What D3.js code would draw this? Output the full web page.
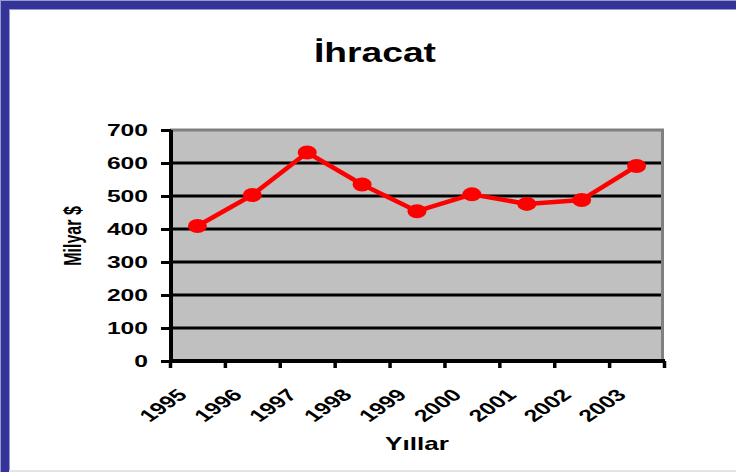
<!DOCTYPE html>
<html>
<head>
<meta charset="utf-8">
<script src="https://cdn.jsdelivr.net/npm/d3@7"></script>
<style>
  html, body { margin: 0; padding: 0; background: #fff; }
  svg { display: block; }
  text { font-family: "Liberation Sans", Arial, sans-serif; font-weight: bold; fill: #000; }
</style>
</head>
<body>
<div id="graph"></div>
<script>
// Data
const years = ['1995', '1996', '1997', '1998', '1999', '2000', '2001', '2002', '2003'];
const exports = [409, 503, 632, 535, 454, 505, 476, 488, 591];
const yTicks = [0, 100, 200, 300, 400, 500, 600, 700];

const width = 736;
const height = 472;
// horizontal squash of the original picture
const sx = 1.45;

const plot = { left: 170, right: 664, top: 130, bottom: 361 };

const svg = d3.select('#graph')
  .append('svg')
    .attr('width', width)
    .attr('height', height);

// Frame
svg.append('rect')
  .attr('x', 0).attr('y', 0).attr('width', width).attr('height', 10)
  .attr('fill', '#9a9acc');
svg.append('rect')
  .attr('x', 0).attr('y', 0).attr('width', 10).attr('height', height)
  .attr('fill', '#9a9acc');
svg.append('rect')
  .attr('x', 1).attr('y', 1).attr('width', width).attr('height', 8)
  .attr('fill', '#333399');
svg.append('rect')
  .attr('x', 1).attr('y', 1).attr('width', 8).attr('height', height)
  .attr('fill', '#333399');
svg.append('rect')
  .attr('x', 9).attr('y', 470).attr('width', width).attr('height', 2)
  .attr('fill', '#e2e2ea');

// Scales
const xScale = d3.scaleBand()
  .domain(years)
  .range([plot.left, plot.right]);

const xEdge = d3.scaleLinear()
  .domain([0, years.length])
  .range([plot.left, plot.right]);

const yScale = d3.scaleLinear()
  .domain([0, 700])
  .range([plot.bottom, plot.top]);

const xc = (d) => xScale(d) + xScale.bandwidth() / 2;

// Plot area
svg.append('rect')
  .attr('x', plot.left)
  .attr('y', plot.top)
  .attr('width', plot.right - plot.left)
  .attr('height', plot.bottom - plot.top)
  .attr('fill', '#c0c0c0');

// Grid lines
svg.append('g')
  .selectAll('line')
  .data(yTicks.filter((d) => d > 0 && d < 700))
  .join('line')
    .attr('x1', plot.left)
    .attr('x2', plot.right - 2)
    .attr('y1', (d) => yScale(d))
    .attr('y2', (d) => yScale(d))
    .attr('stroke', '#000')
    .attr('stroke-width', 3);

// Plot border (top and right)
svg.append('path')
  .attr('d', `M${plot.left},${plot.top} H${plot.right - 1.5} V${plot.bottom}`)
  .attr('fill', 'none')
  .attr('stroke', '#808080')
  .attr('stroke-width', 3);

// Axes
const yAxis = svg.append('g')
  .attr('transform', `translate(${plot.left + 1},0)`)
  .call(d3.axisLeft(yScale).tickValues(yTicks).tickSize(10).tickFormat(''));
yAxis.select('.domain')
  .attr('d', `M0,${plot.top} V${plot.bottom + 2}`)
  .attr('stroke-width', 4);
yAxis.selectAll('.tick line').attr('stroke-width', 3);

const xAxis = svg.append('g')
  .attr('transform', `translate(0,${plot.bottom})`)
  .call(d3.axisBottom(xEdge).tickValues(d3.range(years.length + 1)).tickSize(7).tickFormat(''));
xAxis.select('.domain')
  .attr('d', `M${plot.left - 1},0 H${plot.right + 1}`)
  .attr('stroke-width', 4);
xAxis.selectAll('.tick line').attr('stroke-width', 3.5);

// Y tick labels
svg.append('g')
  .selectAll('text')
  .data(yTicks)
  .join('text')
    .attr('transform', (d) => `translate(148,${yScale(d)}) scale(${sx},1)`)
    .attr('text-anchor', 'end')
    .attr('dy', '0.36em')
    .style('font-size', '17px')
    .text((d) => d);

// X tick labels
svg.append('g')
  .selectAll('text')
  .data(years)
  .join('text')
    .attr('transform', (d) => `translate(${xc(d) - 9},396) scale(${sx},1) rotate(-45)`)
    .attr('text-anchor', 'end')
    .style('font-size', '17px')
    .text((d) => d);

// Titles
svg.append('text')
  .attr('transform', `translate(375,62) scale(${sx * 0.95},1)`)
  .attr('text-anchor', 'middle')
  .style('font-size', '27px')
  .text('İhracat');

svg.append('text')
  .attr('transform', `translate(417,450) scale(${sx},1)`)
  .attr('text-anchor', 'middle')
  .style('font-size', '18px')
  .text('Yıllar');

svg.append('text')
  .attr('transform', `translate(81,236) scale(${sx},1) rotate(-90)`)
  .attr('text-anchor', 'middle')
  .style('font-size', '16px')
  .text('Milyar $');

// Line and markers
const line = d3.line()
  .x((d, i) => xc(years[i]))
  .y((d) => yScale(d));

svg.append('path')
  .datum(exports)
  .attr('d', line)
  .attr('fill', 'none')
  .attr('stroke', '#ff0000')
  .attr('stroke-width', 4.5)
  .attr('stroke-linejoin', 'round');

svg.append('g')
  .selectAll('ellipse')
  .data(exports)
  .join('ellipse')
    .attr('cx', (d, i) => xc(years[i]))
    .attr('cy', (d) => yScale(d))
    .attr('rx', 9.5)
    .attr('ry', 7)
    .attr('fill', '#ff0000');
</script>
</body>
</html>
